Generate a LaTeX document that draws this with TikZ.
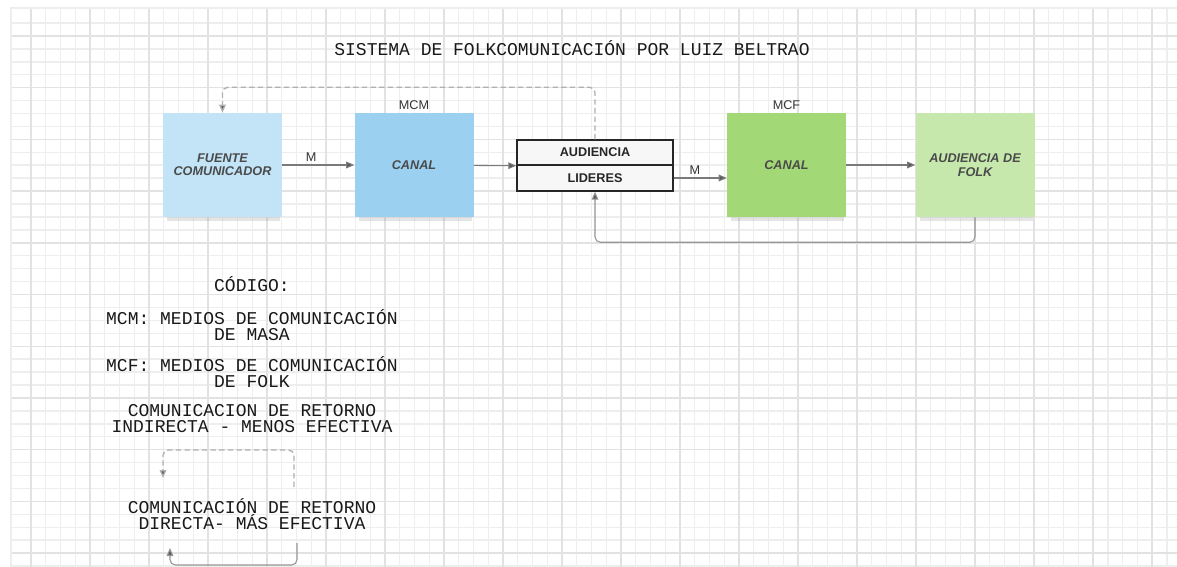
\documentclass[tikz,border=0pt]{standalone}
\usepackage{fontspec}
\setmainfont{Liberation Sans}
\setmonofont{Liberation Mono}
\usetikzlibrary{arrows.meta,shadows,calc}

\definecolor{fuenteblue}{HTML}{C2E4F6}
\definecolor{mcmblue}{HTML}{9BD0F1}
\definecolor{mcfgreen}{HTML}{A3D877}
\definecolor{folkgreen}{HTML}{C6E8AD}
\definecolor{boxtext}{HTML}{4A4A4A}
\definecolor{linegray}{HTML}{7A7A7A}
\definecolor{tipgray}{HTML}{5A5A5A}
\definecolor{dashgray}{HTML}{B0B0B0}
\definecolor{gridminor}{HTML}{EEEEEE}
\definecolor{gridmajor}{HTML}{E2E2E2}

\tikzset{
  minorline/.style={draw=gridminor, line width=1.1pt},
  majorline/.style={draw=gridmajor, line width=1.1pt},
  box/.style={minimum width=89.25pt, minimum height=78pt, inner sep=2pt,
    align=center, text=boxtext,
    font=\fontsize{9.5}{10}\selectfont\bfseries\itshape,
    drop shadow={shadow xshift=1pt, shadow yshift=-5pt, shadow scale=0.95,
      opacity=0.2}},
  half/.style={draw=black!85, line width=1.1pt, fill=black!3,
    minimum width=117pt, inner sep=0pt, text=black!85,
    font=\fontsize{9.5}{10}\selectfont\bfseries},
  lbl/.style={text=black!80, font=\fontsize{9.5}{10}\selectfont, inner sep=1pt},
  code/.style={align=center, text=black!90,
    font=\fontsize{13.5}{12}\selectfont\ttfamily},
  arr/.style={draw=linegray, line width=0.8pt,
    -{Triangle[length=6pt,width=5pt,fill=tipgray]}},
  dret/.style={draw=dashgray, line width=1pt, dash pattern=on 4pt off 2.5pt,
    rounded corners=4pt, -{Triangle[length=6pt,width=5pt,fill=tipgray]}},
  sret/.style={draw=linegray!80, line width=0.8pt, rounded corners=4pt,
    -{Triangle[length=6pt,width=5pt,fill=tipgray]}},
}

\begin{document}
\begin{tikzpicture}[x=0.75pt, y=-0.75pt]

\useasboundingbox[fill=white] (0,0) rectangle (1177,567);

% background grid
\foreach \k in {0,...,77}
  \draw[minorline] ({31+14.75*\k},8) -- ({31+14.75*\k},567);
\foreach \k in {0,...,42}
  \draw[minorline] (11,{23+12.93*\k}) -- (1177,{23+12.93*\k});
\foreach \k in {0,4,...,76}
  \draw[majorline] ({31+14.75*\k},8) -- ({31+14.75*\k},567);
\foreach \k in {1,5,...,41}
  \draw[majorline] (11,{23+12.93*\k}) -- (1177,{23+12.93*\k});
\draw[minorline] (11,567) -- (11,8) -- (1177,8);

\node[name=title, code] at (572,48) {SISTEMA DE FOLKCOMUNICACIÓN POR LUIZ BELTRAO};

\node[name=fuente, box, fill=fuenteblue] at (222.5,165) {FUENTE\\COMUNICADOR};
\node[name=mcm, box, fill=mcmblue] at (414,165) {CANAL};
\node[name=mcf, box, fill=mcfgreen] at (786.5,165) {CANAL};
\node[name=folk, box, fill=folkgreen] at (975,165) {AUDIENCIA DE\\FOLK};

\node[name=aud, half, minimum height=18.75pt] at (595,152.5) {AUDIENCIA};
\node[name=lid, half, minimum height=19.5pt] at (595,178) {LIDERES};

\node[name=mcmlbl, lbl, anchor=south] at ($(mcm.north)+(0,-2)$) {MCM};
\node[name=mcflbl, lbl, anchor=south] at ($(mcf.north)+(0,-2)$) {MCF};

\draw[arr] (fuente) -- node[name=m1, lbl, pos=0.4, above=1pt] {M} (mcm);
\draw[arr] (mcm) -- (aud.south west);
\draw[arr] (lid.east) -- node[name=m2, lbl, pos=0.4, above=1pt] {M} (lid.east -| mcf.west);
\draw[arr] (mcf) -- (folk);

% retorno directo e indirecto
\draw[sret] (folk.south) -- ++(0,25) -| (lid.south);
\draw[dret] (aud.north) -- ++(0,-52) -| (fuente.north);

% codigo
\node[name=cod, code] at (252,284) {CÓDIGO:};
\node[name=codmcm, code] at (252,325) {MCM: MEDIOS DE COMUNICACIÓN\\DE MASA};
\node[name=codmcf, code] at (252,372) {MCF: MEDIOS DE COMUNICACIÓN\\DE FOLK};
\node[name=codind, code] at (252,419) {COMUNICACION DE RETORNO\\INDIRECTA - MENOS EFECTIVA};
\node[name=coddir, code] at (252,514) {COMUNICACIÓN DE RETORNO\\DIRECTA- MÁS EFECTIVA};

\coordinate (ds) at (294,487);
\coordinate (de) at (163,478);
\coordinate (ss) at (297,543);
\coordinate (se) at (170,548);
\draw[dret] (ds) -- (294,450) -| (de);
\draw[sret] (ss) -- (297,565) -| (se);

\end{tikzpicture}
\end{document}
